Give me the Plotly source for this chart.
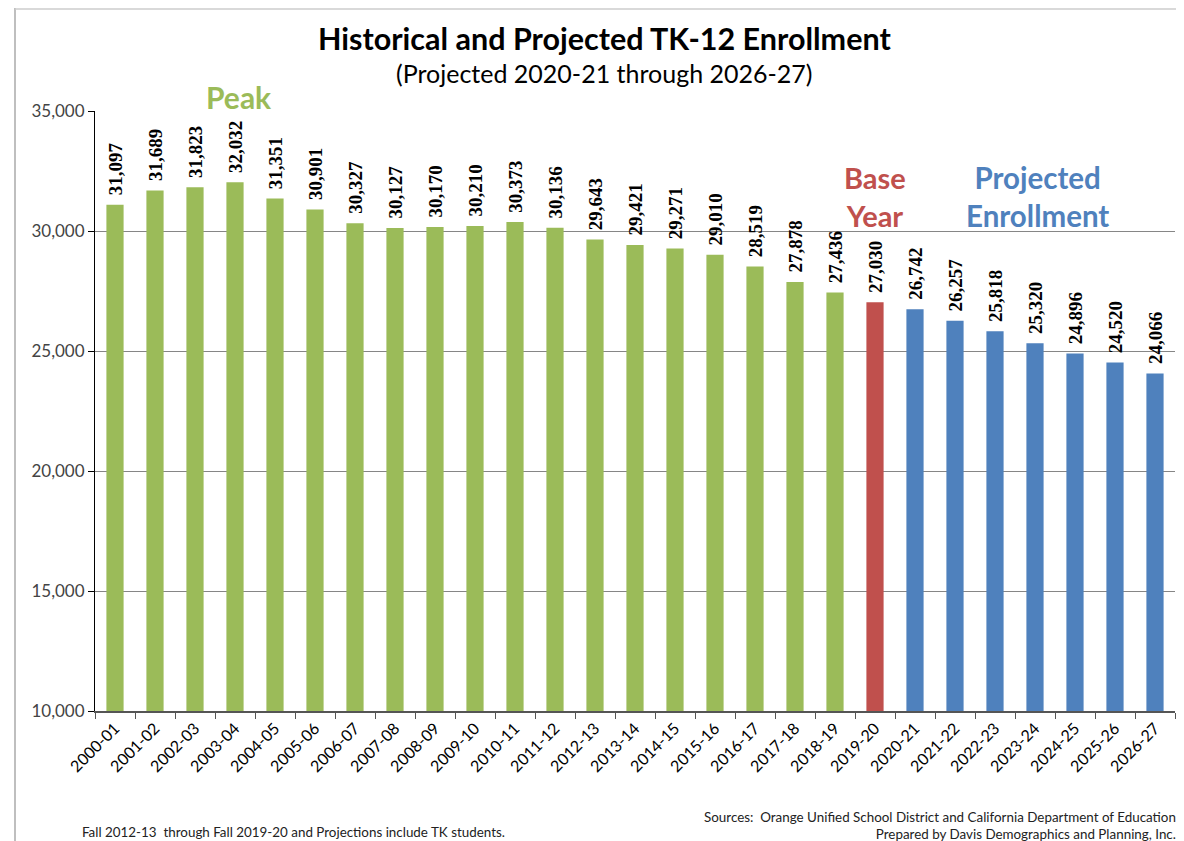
import plotly.graph_objects as go

years = ["2000-01","2001-02","2002-03","2003-04","2004-05","2005-06","2006-07","2007-08",
         "2008-09","2009-10","2010-11","2011-12","2012-13","2013-14","2014-15","2015-16",
         "2016-17","2017-18","2018-19","2019-20","2020-21","2021-22","2022-23","2023-24",
         "2024-25","2025-26","2026-27"]
enrollment = [31097,31689,31823,32032,31351,30901,30327,30127,30170,30210,30373,30136,
              29643,29421,29271,29010,28519,27878,27436,27030,26742,26257,25818,25320,
              24896,24520,24066]
kind = ["hist"]*19 + ["base"] + ["proj"]*7
color_map = {"hist": "#9BBB59", "base": "#C0504D", "proj": "#4F81BD"}
colors = [color_map[k] for k in kind]

W, H = 1176, 833
L, R, T, B = 87, 9, 103, 130
PW, PH = W - L - R, H - T - B

fig = go.Figure(go.Bar(
    x=years, y=enrollment, marker_color=colors, marker_line_width=0,
    text=["\u00a0\u200a" + f"{v:,}" for v in enrollment], textposition="outside", textangle=-90,
    constraintext="none",
    textfont=dict(family="Liberation Serif", size=19, color="black"),
    texttemplate="<b>%{text}</b>", cliponaxis=False, hoverinfo="x+y",
))

fig.update_layout(
    width=W, height=H, paper_bgcolor="white", plot_bgcolor="white",
    margin=dict(l=L, r=R, t=T, b=B, autoexpand=False),
    bargap=0.57, showlegend=False,
    font=dict(family="Lato", color="#222"),
)
fig.update_yaxes(range=[10000, 35000], dtick=5000, tickformat=",", showgrid=True,
                 gridcolor="#868686", gridwidth=1, showline=True, linecolor="black",
                 ticks="outside", ticklen=6, tickcolor="black", zeroline=False,
                 tickfont=dict(family="Lato", size=17, color="#444"))
fig.update_xaxes(type="category", showline=True, linecolor="#555", linewidth=1.5,
                 ticks="outside", tickson="boundaries",
                 ticklen=6, tickcolor="#555", tickangle=-45,
                 tickfont=dict(family="Lato", size=16, color="black"))

def px_x(fx):
    return (fx - L) / PW

fig.add_annotation(text="<b>Historical and Projected TK-12 Enrollment</b>", xref="paper", yref="paper",
                   x=px_x(596), y=1, yshift=73, yanchor="middle", showarrow=False,
                   font=dict(family="Lato", size=30.5, color="black"))
fig.add_annotation(text="(Projected 2020-21 through 2026-27)", xref="paper", yref="paper",
                   x=px_x(596), y=1, yshift=38, yanchor="middle", showarrow=False,
                   font=dict(family="Lato", size=25, color="black"))
fig.add_annotation(text="<b>Peak</b>", x="2003-04", y=35000, yshift=14, yanchor="middle",
                   showarrow=False, xshift=4, font=dict(family="Lato", size=30, color="#9BBB59"))
fig.add_annotation(text="<b>Base<br>Year</b>", x="2019-20", y=31420, yanchor="middle",
                   showarrow=False, xshift=0, font=dict(family="Lato", size=29, color="#C0504D"))
fig.add_annotation(text="<b>Projected<br>Enrollment</b>", x="2023-24", y=31420, yanchor="middle",
                   showarrow=False, xshift=2, font=dict(family="Lato", size=29.5, color="#4F81BD"))
fig.add_annotation(text="Fall 2012-13  through Fall 2019-20 and Projections include TK students.",
                   xref="paper", yref="paper", x=px_x(72), y=0, xanchor="left",
                   yanchor="middle", yshift=-121, showarrow=False,
                   font=dict(family="Lato", size=13.4, color="#222"))
fig.add_annotation(text="Sources:  Orange Unified School District and California Department of Education<br>Prepared by Davis Demographics and Planning, Inc.",
                   xref="paper", yref="paper", x=px_x(1170), y=0, xanchor="right", align="right",
                   yanchor="middle", yshift=-114, showarrow=False,
                   font=dict(family="Lato", size=13.4, color="#222"))
# outer chart frame (left and top edges)
fig.add_shape(type="line", xref="paper", yref="paper", x0=px_x(7), x1=px_x(7),
              y0=-B / PH, y1=1 + T / PH, line=dict(color="#aaaaaa", width=1.5))
fig.add_shape(type="line", xref="paper", yref="paper", x0=px_x(7), x1=1 + R / PW,
              y0=1 + (T - 1) / PH, y1=1 + (T - 1) / PH, line=dict(color="#cccccc", width=1.5))
fig.write_html("out.html")
